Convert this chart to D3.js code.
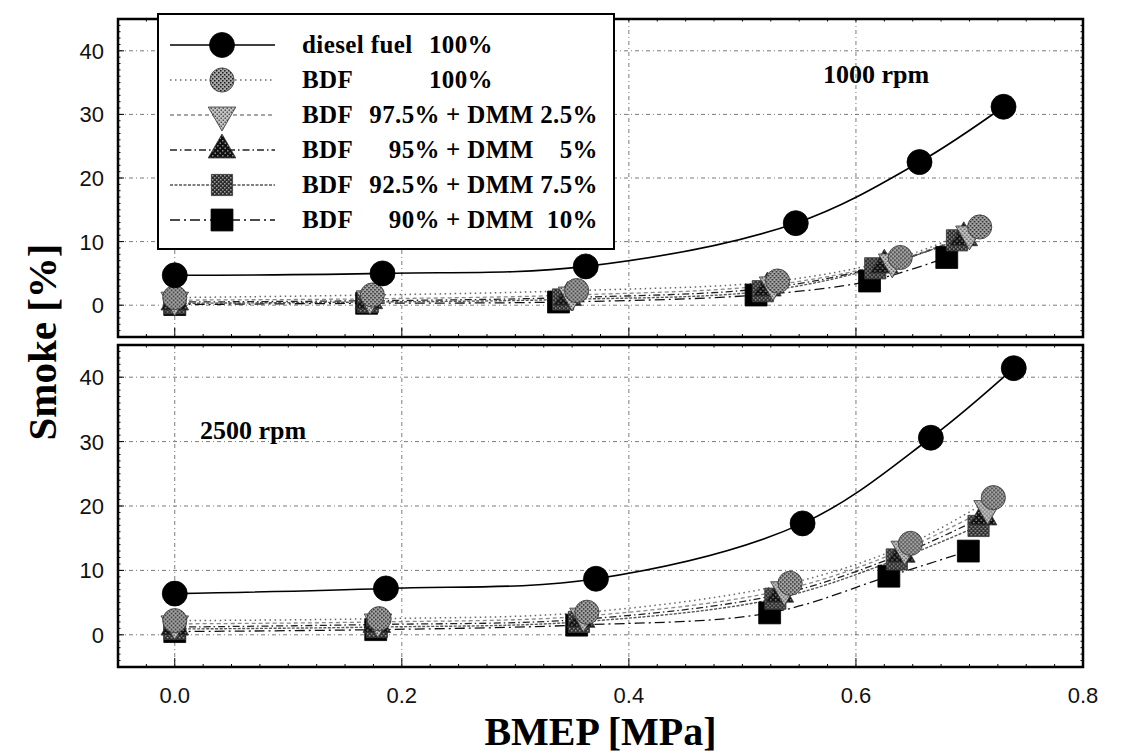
<!DOCTYPE html>
<html><head><meta charset="utf-8">
<script src="https://cdn.jsdelivr.net/npm/d3@7"></script>
<style>body{margin:0;background:#fff}svg{display:block}</style>
</head><body><svg id="c" width="1130" height="756"></svg>
<script>
// ---------- data ----------
const xTicks = [0.0, 0.2, 0.4, 0.6, 0.8];
const yTicks = [0, 10, 20, 30, 40];
const panelLabels = ["1000 rpm", "2500 rpm"];
const legendFuel = ["diesel fuel", "BDF", "BDF", "BDF", "BDF", "BDF"];
const legendBdfPct = ["100%", "100%", "97.5%", "95%", "92.5%", "90%"];
const legendDmmPct = ["", "", "2.5%", "5%", "7.5%", "10%"];

// 1000 rpm  [BMEP MPa, Smoke %]
const diesel1000 = [[0.000,4.7],[0.183,5.0],[0.362,6.1],[0.547,12.9],[0.656,22.5],[0.730,31.2]];
const bdf100_1000 = [[0.000,1.2],[0.174,1.6],[0.354,2.3],[0.531,3.8],[0.639,7.5],[0.709,12.3]];
const dmm25_1000 = [[0.000,0.8],[0.172,1.0],[0.350,1.6],[0.527,3.2],[0.632,6.8],[0.700,11.2]];
const dmm5_1000  = [[0.000,0.5],[0.171,0.7],[0.346,1.2],[0.522,2.7],[0.625,6.3],[0.695,10.6]];
const dmm75_1000 = [[0.000,0.3],[0.170,0.5],[0.342,0.9],[0.518,2.2],[0.617,5.8],[0.689,10.2]];
const dmm10_1000 = [[0.000,0.1],[0.169,0.3],[0.338,0.5],[0.512,1.6],[0.612,3.8],[0.680,7.5]];

// 2500 rpm
const diesel2500 = [[0.000,6.4],[0.186,7.2],[0.371,8.7],[0.553,17.3],[0.666,30.6],[0.739,41.4]];
const bdf100_2500 = [[0.000,2.2],[0.180,2.5],[0.363,3.5],[0.542,8.0],[0.648,14.2],[0.721,21.3]];
const dmm25_2500 = [[0.000,1.7],[0.179,2.0],[0.360,2.9],[0.537,7.0],[0.643,13.3],[0.716,19.6]];
const dmm5_2500  = [[0.000,1.2],[0.178,1.6],[0.358,2.4],[0.533,6.3],[0.640,12.5],[0.712,18.3]];
const dmm75_2500 = [[0.000,0.9],[0.178,1.2],[0.356,2.0],[0.529,5.6],[0.636,11.7],[0.708,16.9]];
const dmm10_2500 = [[0.000,0.5],[0.177,0.8],[0.354,1.5],[0.524,3.4],[0.629,9.1],[0.699,13.0]];

const panels = [
  [diesel1000, bdf100_1000, dmm25_1000, dmm5_1000, dmm75_1000, dmm10_1000],
  [diesel2500, bdf100_2500, dmm25_2500, dmm5_2500, dmm75_2500, dmm10_2500]
];

// ---------- layout / style ----------
const svg = d3.select("#c");
const defs = svg.append("defs");
function halftone(id, base, dot, step) {
  const p = defs.append("pattern").attr("id", id).attr("patternUnits", "userSpaceOnUse")
    .attr("width", step).attr("height", step);
  p.append("rect").attr("width", step).attr("height", step).attr("fill", base);
  p.append("rect").attr("width", 1.5).attr("height", 1.5).attr("fill", dot);
  p.append("rect").attr("x", step/2).attr("y", step/2).attr("width", 1.5).attr("height", 1.5).attr("fill", dot);
}
halftone("htA", "#a8a8a8", "#1a1a1a", 4);
halftone("htB", "#c4c4c4", "#555", 4);
halftone("htC", "#111", "#888", 5);
halftone("htD", "#2a2a2a", "#a0a0a0", 4);

const styles = [
  {sym: d3.symbolCircle,   size: 490, fill: "#000",      line: "#000", dash: null,         w: 1.6, rot: 0},
  {sym: d3.symbolCircle,   size: 460, fill: "url(#htA)", line: "#666", dash: "1.5,3.5",    w: 1.5, rot: 0},
  {sym: d3.symbolTriangle, size: 330, fill: "url(#htB)", line: "#888", dash: "4,3",        w: 1.3, rot: 180},
  {sym: d3.symbolTriangle, size: 330, fill: "url(#htC)", line: "#222", dash: "7,3,1.5,3",  w: 1.3, rot: 0},
  {sym: d3.symbolSquare,   size: 450, fill: "url(#htD)", line: "#555", dash: "3,1.5",      w: 1.4, rot: 0},
  {sym: d3.symbolSquare,   size: 480, fill: "#000",      line: "#111", dash: "10,4,2,4",   w: 1.3, rot: 0}
];

const X0 = 118, X1 = 1083;
const x = d3.scaleLinear().domain([-0.05, 0.8]).range([X0, X1]);
const panelY = [[19, 337], [345, 667]];
const labelPos = [[823, 83], [200, 439]];

const gridStyle = g => g.attr("stroke", "#444").attr("stroke-width", 1)
  .attr("stroke-dasharray", "4,3,1,3").attr("opacity", 0.7).attr("fill", "none");

panels.forEach((series, pi) => {
  const [T, B] = panelY[pi];
  const y = d3.scaleLinear().domain([-5, 45]).range([B, T]);
  const g = svg.append("g");

  // grid
  g.append("g").call(gridStyle).selectAll("line.h").data(yTicks).join("line")
    .attr("x1", X0).attr("x2", X1).attr("y1", d => y(d)).attr("y2", d => y(d));
  g.append("g").call(gridStyle).selectAll("line.v").data(xTicks.filter(d => d < 0.8)).join("line")
    .attr("x1", d => x(d)).attr("x2", d => x(d)).attr("y1", T).attr("y2", B);

  // lines
  const line = d3.line().x(d => x(d[0])).y(d => y(d[1])).curve(d3.curveCatmullRom.alpha(0.5));
  series.forEach((s, i) => {
    const st = styles[i];
    g.append("path").datum(s).attr("d", line).attr("fill", "none")
      .attr("stroke", st.line).attr("stroke-width", st.w)
      .attr("stroke-dasharray", st.dash);
  });
  // markers (reverse so diesel / BDF on top)
  series.slice().reverse().forEach((s, ri) => {
    const i = series.length - 1 - ri;
    const st = styles[i];
    g.append("g").selectAll("path").data(s).join("path")
      .attr("d", d3.symbol(st.sym, st.size))
      .attr("transform", d => `translate(${x(d[0])},${y(d[1])}) rotate(${st.rot})`)
      .attr("fill", st.fill).attr("stroke", i === 0 || i === 5 ? "#000" : "#333")
      .attr("stroke-width", 0.8);
  });

  // ticks
  const tk = g.append("g").attr("stroke", "#000").attr("stroke-width", 1);
  d3.range(-5, 46, 1).forEach(v => {
    const L = yTicks.includes(v) ? 6 : 2.5;
    tk.append("line").attr("x1", X0).attr("x2", X0 + L).attr("y1", y(v)).attr("y2", y(v));
    tk.append("line").attr("x1", X1).attr("x2", X1 - 2.5).attr("y1", y(v)).attr("y2", y(v));
  });
  d3.range(-0.05, 0.8001, 0.025).forEach(v => {
    const major = xTicks.some(t => Math.abs(t - v) < 1e-6);
    const L = major ? 9 : 3;
    tk.append("line").attr("x1", x(v)).attr("x2", x(v)).attr("y1", B).attr("y2", B - L);
    tk.append("line").attr("x1", x(v)).attr("x2", x(v)).attr("y1", T).attr("y2", T + 2.5);
  });

  // frame
  g.append("rect").attr("x", X0).attr("y", T).attr("width", X1 - X0).attr("height", B - T)
    .attr("fill", "none").attr("stroke", "#000").attr("stroke-width", 2.5);

  // y tick labels
  g.append("g").selectAll("text").data(yTicks).join("text")
    .attr("x", 104).attr("y", d => y(d) + 8).attr("text-anchor", "end")
    .attr("font-family", "Liberation Sans, Arial, sans-serif").attr("font-size", 22)
    .attr("fill", "#111").text(d => d);

  // panel label
  g.append("text").attr("x", labelPos[pi][0]).attr("y", labelPos[pi][1])
    .attr("font-family", "Liberation Serif, Times New Roman, serif").attr("font-weight", "bold")
    .attr("font-size", 26).attr("fill", "#000").text(panelLabels[pi]);
});

// x tick labels
svg.append("g").selectAll("text").data(xTicks).join("text")
  .attr("x", d => x(d)).attr("y", 703).attr("text-anchor", "middle")
  .attr("font-family", "Liberation Sans, Arial, sans-serif").attr("font-size", 22)
  .attr("fill", "#111").text(d => d.toFixed(1));

// axis titles
svg.append("text").attr("x", (X0 + X1) / 2).attr("y", 745).attr("text-anchor", "middle")
  .attr("font-family", "Liberation Serif, Times New Roman, serif").attr("font-weight", "bold")
  .attr("font-size", 40).text("BMEP [MPa]");
svg.append("text").attr("transform", "translate(56,342) rotate(-90)").attr("text-anchor", "middle")
  .attr("font-family", "Liberation Serif, Times New Roman, serif").attr("font-weight", "bold")
  .attr("font-size", 41).text("Smoke [%]");

// legend
const lg = svg.append("g");
lg.append("rect").attr("x", 158).attr("y", 14).attr("width", 456).attr("height", 235)
  .attr("fill", "#fff").attr("stroke", "#000").attr("stroke-width", 2);
const rowY = i => 45 + i * 35;
const serifBold = s => s.attr("font-family", "Liberation Serif, Times New Roman, serif")
  .attr("font-weight", "bold").attr("font-size", 25).attr("letter-spacing", 0.4).attr("fill", "#000");
styles.forEach((st, i) => {
  const yy = rowY(i);
  lg.append("line").attr("x1", 170).attr("x2", 275).attr("y1", yy).attr("y2", yy)
    .attr("stroke", st.line).attr("stroke-width", st.w).attr("stroke-dasharray", st.dash);
  lg.append("path").attr("d", d3.symbol(st.sym, st.size)).attr("fill", st.fill)
    .attr("stroke", i === 0 || i === 5 ? "#000" : "#333").attr("stroke-width", 0.8)
    .attr("transform", `translate(222,${yy}) rotate(${st.rot})`);
  lg.append("text").attr("x", 302).attr("y", yy + 8).call(serifBold).text(legendFuel[i]);
  const hasDmm = legendDmmPct[i] !== "";
  lg.append("text").attr("x", hasDmm ? 440 : 493).attr("y", yy + 8).attr("text-anchor", "end")
    .call(serifBold).text(legendBdfPct[i]);
  if (hasDmm) {
    lg.append("text").attr("x", 446).attr("y", yy + 8).call(serifBold).text("+ DMM");
    lg.append("text").attr("x", 598).attr("y", yy + 8).attr("text-anchor", "end")
      .call(serifBold).text(legendDmmPct[i]);
  }
});
</script>
</body></html>
